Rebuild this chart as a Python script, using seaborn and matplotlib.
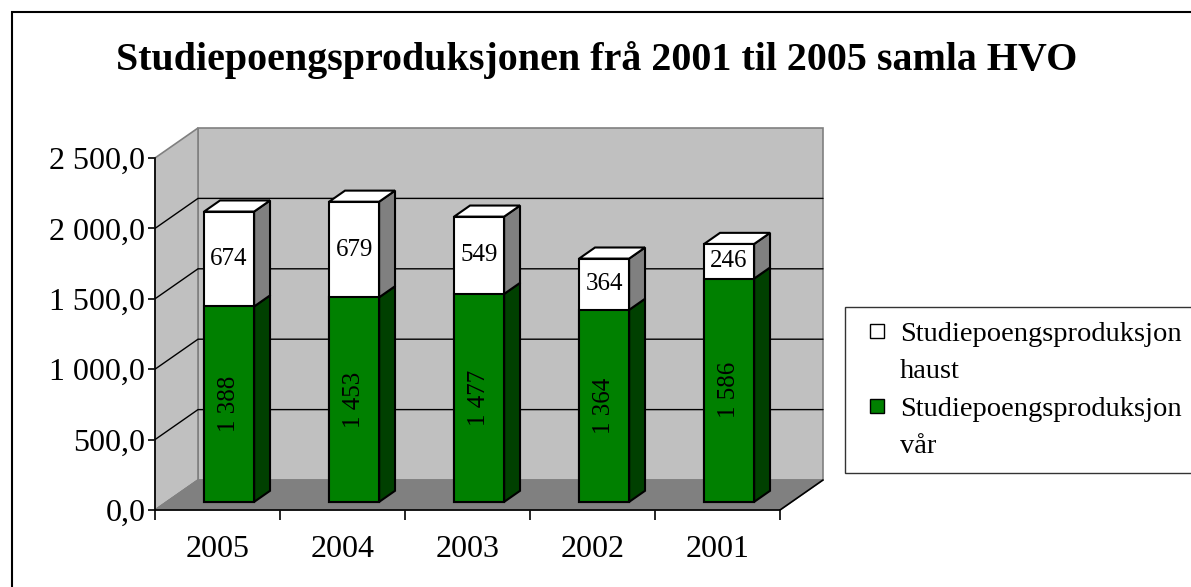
import matplotlib
matplotlib.use('Agg')
import matplotlib.pyplot as plt
import matplotlib.transforms as mtransforms
from matplotlib.patches import Polygon, Rectangle
from matplotlib.lines import Line2D
import seaborn as sns
import pandas as pd

# data
years = ['2005', '2004', '2003', '2002', '2001']
var_values = [1388, 1453, 1477, 1364, 1586]      # Studiepoengsproduksjon vår
haust_values = [674, 679, 549, 364, 246]         # Studiepoengsproduksjon haust
var_labels = ['1 388', '1 453', '1 477', '1 364', '1 586']
haust_labels = ['674', '679', '549', '364', '246']
yticks = [0, 500, 1000, 1500, 2000, 2500]
ytick_labels = ['0,0', '500,0', '1 000,0', '1 500,0', '2 000,0', '2 500,0']
title = 'Studiepoengsproduksjonen frå 2001 til 2005 samla HVO'
legend_lines = ['Studiepoengsproduksjon', 'haust', 'Studiepoengsproduksjon', 'vår']

sns.set_style('white')
plt.rcParams['font.family'] = ['Liberation Serif', 'DejaVu Serif']
plt.rcParams['text.color'] = 'black'
plt.rcParams['xtick.color'] = 'black'
plt.rcParams['ytick.color'] = 'black'

DPI = 100
W, H = 1191, 587
fig = plt.figure(figsize=(W / DPI, H / DPI), dpi=DPI)
fig.patch.set_facecolor('white')

# front plane of the pseudo-3d box
ax = fig.add_axes([155 / W, 1 - 510 / H, 625 / W, 352 / H])
ax.set_xlim(-0.5, 4.5)
ax.set_ylim(0, 2500)
ax.patch.set_alpha(0)

DX, DY = 43, 30            # full depth offset in pixels
F_DEPTH, B_DEPTH = 0.27, 0.64   # bar front / back depth


def px(x, y, d):
    X, Y = ax.transData.transform((x, y))
    return (X + d * DX, Y + d * DY)


ident = mtransforms.IdentityTransform()


def poly(pts, **kw):
    p = Polygon(pts, closed=True, transform=ident, clip_on=False, **kw)
    ax.add_artist(p)
    return p


def line(pts, **kw):
    xs = [p[0] for p in pts]
    ys = [p[1] for p in pts]
    ax.add_artist(plt.Line2D(xs, ys, transform=ident, clip_on=False, **kw))


# walls and floor
poly([px(-0.5, 0, 1), px(4.5, 0, 1), px(4.5, 2500, 1), px(-0.5, 2500, 1)],
     facecolor='#C0C0C0', edgecolor='#808080', lw=1.2, zorder=0.5)
poly([px(-0.5, 0, 0), px(-0.5, 0, 1), px(-0.5, 2500, 1), px(-0.5, 2500, 0)],
     facecolor='#C0C0C0', edgecolor='#808080', lw=1.2, zorder=0.6)
poly([px(-0.5, 0, 0), px(4.5, 0, 0), px(4.5, 0, 1), px(-0.5, 0, 1)],
     facecolor='#808080', edgecolor='#808080', lw=1, zorder=0.7)

# gridlines on side and back wall
for v in yticks[1:-1]:
    line([px(-0.5, v, 0), px(-0.5, v, 1), px(4.5, v, 1)], color='black', lw=1, zorder=0.8)
line([px(-0.5, 0, 0), px(-0.5, 0, 1)], color='#808080', lw=1, zorder=0.8)
line([px(4.5, 0, 0), px(4.5, 0, 1)], color='black', lw=1.2, zorder=0.9)

# bars (front faces) via seaborn
df = pd.DataFrame({'year': years, 'var': var_values, 'haust': haust_values})
df['total'] = df['var'] + df['haust']
sns.barplot(data=df, x='year', y='total', color='white', saturation=1,
            width=0.4, edgecolor='black', linewidth=1.5, ax=ax, zorder=3)
sns.barplot(data=df, x='year', y='var', color='#008000', saturation=1,
            width=0.4, edgecolor='black', linewidth=1.5, ax=ax, zorder=3)

shift = mtransforms.ScaledTranslation(F_DEPTH * DX / DPI, F_DEPTH * DY / DPI,
                                      fig.dpi_scale_trans)
bars = [p for p in ax.patches if isinstance(p, Rectangle)]
for p in bars:
    p.set_transform(ax.transData + shift)
    p.set_clip_on(False)

n = len(years)
for i in range(n):
    bar = bars[i]
    x0 = bar.get_x()
    x1 = x0 + bar.get_width()
    v = var_values[i]
    t = v + haust_values[i]
    # side faces
    poly([px(x1, 0, F_DEPTH), px(x1, 0, B_DEPTH), px(x1, v, B_DEPTH), px(x1, v, F_DEPTH)],
         facecolor='#004000', edgecolor='black', lw=1.5, zorder=2.5)
    poly([px(x1, v, F_DEPTH), px(x1, v, B_DEPTH), px(x1, t, B_DEPTH), px(x1, t, F_DEPTH)],
         facecolor='#808080', edgecolor='black', lw=1.5, zorder=2.5)
    # top face
    poly([px(x0, t, F_DEPTH), px(x1, t, F_DEPTH), px(x1, t, B_DEPTH), px(x0, t, B_DEPTH)],
         facecolor='white', edgecolor='black', lw=1.5, zorder=2.5)
    # value labels
    xc = x0 + bar.get_width() / 2
    ax.text(xc, v + haust_values[i] / 2, haust_labels[i], transform=ax.transData + shift,
            ha='center', va='center', fontsize=18, zorder=5)
    ax.text(xc, v / 2, var_labels[i], transform=ax.transData + shift, rotation=90,
            ha='center', va='center', fontsize=18, zorder=5)

# axes, ticks
for s in ['top', 'right']:
    ax.spines[s].set_visible(False)
for s in ['left', 'bottom']:
    ax.spines[s].set_color('black')
    ax.spines[s].set_linewidth(1.2)
    ax.spines[s].set_zorder(4)
ax.set_yticks(yticks)
ax.set_yticklabels(ytick_labels, fontsize=23)
ax.set_xticks(range(n))
ax.set_xticklabels(years, fontsize=23)
ax.set_xticks([i - 0.5 for i in range(n + 1)], minor=True)
ax.tick_params(axis='y', which='major', direction='out', length=5, width=1.2,
               color='black', left=True, pad=2)
ax.tick_params(axis='x', which='major', length=0, pad=18)
ax.tick_params(axis='x', which='minor', direction='out', length=7, width=1.2,
               color='black', bottom=True)
ax.set_xlabel('')
ax.set_ylabel('')

# title
fig.text(597 / W, 1 - 60 / H, title, ha='center', va='center',
         fontsize=28.8, fontweight='bold')

# legend: the marker sits next to the first line of each entry
blank = Line2D([], [], linestyle='none')
handles = [Line2D([], [], marker='s', markersize=10, markerfacecolor='white',
                  markeredgecolor='black', markeredgewidth=1, linestyle='none'),
           blank,
           Line2D([], [], marker='s', markersize=10, markerfacecolor='#008000',
                  markeredgecolor='black', markeredgewidth=1, linestyle='none'),
           blank]
leg = fig.legend(handles, legend_lines, loc='upper left',
                 bbox_to_anchor=(845 / W, 1 - 472 / H, 360 / W, 165 / H), mode='expand',
                 fontsize=20.5, frameon=True, fancybox=False, borderaxespad=0,
                 handlelength=1.23, handletextpad=0.2,
                 labelspacing=0.4, borderpad=0.5)
leg.get_frame().set_edgecolor('black')
leg.get_frame().set_linewidth(1)

# chart-area border (only left and top visible in the crop)
fig.add_artist(Rectangle((12 / W, -0.1), 1.2, 1.1 - 12 / H, transform=fig.transFigure,
                         fill=False, edgecolor='black', lw=1.5))

fig.savefig('out.png', dpi=DPI)
